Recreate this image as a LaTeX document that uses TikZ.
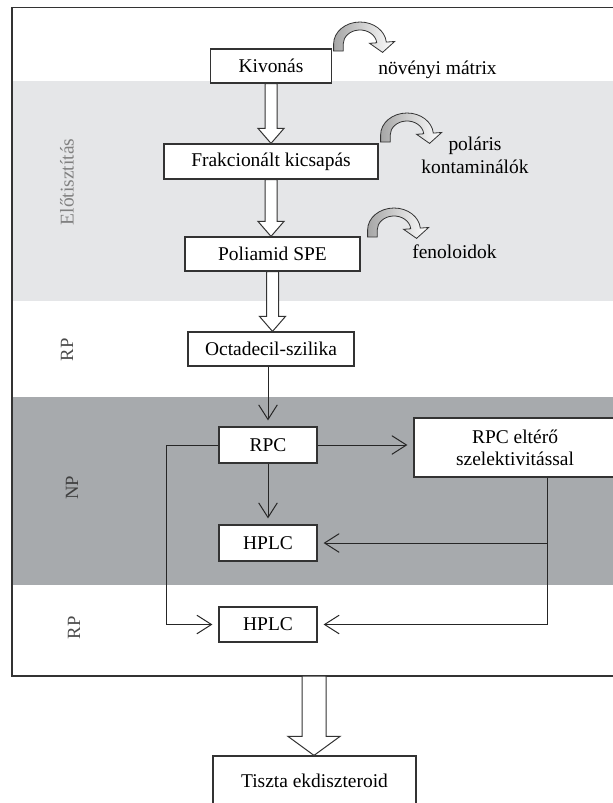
\documentclass[tikz,border=0pt]{standalone}
\usepackage{fontspec}
\setmainfont{Liberation Serif}
\usepackage{xcolor}
\usepackage{tikz}
\usetikzlibrary{positioning, arrows.meta, calc}

\definecolor{lightband}{HTML}{E5E6E8}
\definecolor{darkband}{HTML}{A7AAAD}
\definecolor{framegray}{HTML}{333333}

% wide hollow arrow: from, to, half shaft, half head, head length
\newcommand{\fatarrow}[5]{%
  \draw[fat] ($(#1)+(-#3,0)$) -- ($(#1 |- #2)+(-#3,-#5)$) -- ++(#3-#4,0)
    -- (#1 |- #2) -- ++(#4,-#5) -- ++(#3-#4,0) -- ($(#1)+(#3,0)$) -- cycle;}

\begin{document}
\begin{tikzpicture}[
    x=0.75pt, y=-0.75pt,
    font=\fontsize{14.6}{17.25}\selectfont,
    box/.style={draw=framegray, line width=0.9pt, fill=white, inner sep=0pt, minimum height=25.5pt, text centered},
    side/.style={rotate=90, font=\fontsize{14}{16}\selectfont},
    arr/.style={-{Straight Barb[length=11pt, width=14pt]}, line width=0.75pt, draw=black!85, shorten >=4.5pt},
    fat/.style={draw=framegray, line width=0.75pt, fill=white},
    curvarr/.pic={
        \draw[line width=0.6pt, draw=framegray, left color=black!35, right color=white, yscale=-1, xscale=1.2]
            (-22,-7) -- (-22,0) arc[start angle=180, end angle=5, radius=22] -- (5:29)
            -- (18.8,-8.4) -- (5:8) -- (5:14) arc[start angle=5, end angle=180, radius=14]
            -- (-14,-7) -- cycle;
    }
]
\useasboundingbox (0,0) rectangle (613,803);
\clip (0,0) rectangle (613,803);

% Bands and frame
\fill[lightband] (12,81) rectangle (625,301);
\fill[darkband] (12,397) rectangle (625,585);
\draw[framegray, line width=0.9pt] (12,7.5) rectangle (625,676);

% Side labels
\node[side, font=\fontsize{14.6}{17}\selectfont, text=black!50] (elo) at (67,182) {Előtisztítás};
\node[side, text=black!70] (rpa) at (67,350) {RP};
\node[side, text=black!75] (np) at (72,488) {NP};
\node[side, text=black!70] (rpb) at (74,628) {RP};

% Clean-up steps
\node[box, minimum width=91pt] (kiv) at (271,66) {Kivonás};
\node[box, minimum width=160.5pt, minimum height=26.25pt] (frak) at (271,161.5) {Frakcionált kicsapás};
\node[box, minimum width=131.25pt] (poli) at (272.5,254) {Poliamid SPE};
\node[box, minimum width=124.5pt] (okta) at (271,349) {Octadecil-szilika};

% Removed fractions
\pic at (360,44) {curvarr};
\pic at (407,135) {curvarr};
\pic at (394,230) {curvarr};
\node (mat) at (437.5,70) {növényi mátrix};
\node[align=center] (pol) at (475,155.5) {poláris\\kontaminálók};
\node (fen) at (454.5,252) {fenoloidok};

% Chromatography
\node[box, minimum width=73.5pt, minimum height=27pt] (rpc) at (268,445) {RPC};
\node[box, minimum width=73.5pt, minimum height=27pt] (hplcnp) at (268,543) {HPLC};
\node[box, minimum width=73.5pt, minimum height=26.25pt] (hplcrp) at (268,624.5) {HPLC};
\node[box, minimum width=151.5pt, minimum height=44.25pt, align=center,
      font=\fontsize{14.6}{16.5}\selectfont] (rpcsel) at (515,447.5) {RPC eltérő\\szelektivitással};

% Product
\node[box, minimum width=152.25pt, minimum height=37.5pt] (tiszta) at (314.5,781) {Tiszta ekdiszteroid};
\coordinate (frameout) at (314,676);

% Arrows
\fatarrow{kiv.south}{frak.north}{6}{13}{15}
\fatarrow{frak.south}{poli.north}{6}{13}{15}
\fatarrow{poli.south}{okta.north}{6}{13}{15}
\fatarrow{frameout}{tiszta.north}{12}{26}{19}

\draw[arr] (okta.south -| rpc.north) -- (rpc.north);
\draw[arr] (rpc) -- (hplcnp);
\draw[arr] (rpc.east) -- (rpc.east -| rpcsel.west);
\draw[arr] (rpc.west) -- ++(-52,0) |- (hplcrp);
\coordinate (selout) at ($(rpcsel.south)+(32,0)$);
\draw[arr] (selout) |- (hplcrp);
\draw[arr] (selout |- hplcnp) -- (hplcnp);

\end{tikzpicture}
\end{document}
